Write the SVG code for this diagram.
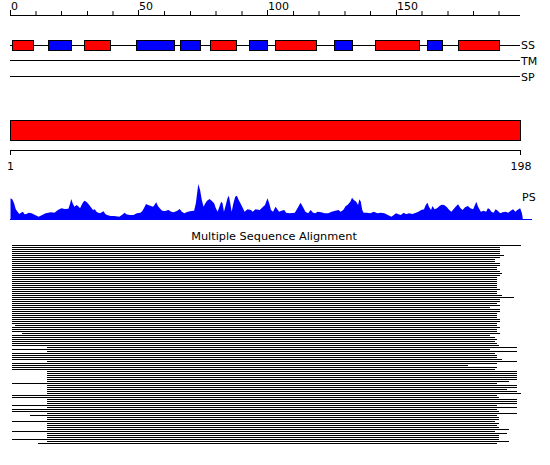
<svg xmlns="http://www.w3.org/2000/svg" width="550" height="465" viewBox="0 0 550 465">
<style>
text{font-family:"DejaVu Sans","Liberation Sans",sans-serif;font-size:11px;fill:#000}
.ln{stroke:#000;stroke-width:1;fill:none}
.red{fill:#ff0000;stroke:#000;stroke-width:1}
.blue{fill:#0000ff;stroke:#000;stroke-width:1}
</style>
<rect width="550" height="465" fill="#fff"/>
<g id="ruler-top">
<path class="ln" d="M10 15.5H520M10.5 10V15M36 11V15M61.5 11V15M87.5 11V15M113 11V15M138.5 10V15M164.5 11V15M190.5 11V15M216 11V15M242 11V15M267.5 10V15M293.5 11V15M319 11V15M345 11V15M370.5 11V15M396.5 10V15M422 11V15M448 11V15M473.5 11V15M499 11V15"/>
<text x="11" y="10">0</text>
<text x="139" y="10">50</text>
<text x="268" y="10">100</text>
<text x="397" y="10">150</text>
</g>
<g id="track-SS">
<path class="ln" d="M10 45.5H520"/>
<rect class="red" x="12.5" y="40.5" width="21" height="10"/>
<rect class="blue" x="48.5" y="40.5" width="23" height="10"/>
<rect class="red" x="84.5" y="40.5" width="26" height="10"/>
<rect class="blue" x="136.5" y="40.5" width="38" height="10"/>
<rect class="blue" x="180.5" y="40.5" width="20" height="10"/>
<rect class="red" x="210.5" y="40.5" width="26" height="10"/>
<rect class="blue" x="249.5" y="40.5" width="18" height="10"/>
<rect class="red" x="275.5" y="40.5" width="41" height="10"/>
<rect class="blue" x="334.5" y="40.5" width="18" height="10"/>
<rect class="red" x="375.5" y="40.5" width="44" height="10"/>
<rect class="blue" x="427.5" y="40.5" width="15" height="10"/>
<rect class="red" x="458.5" y="40.5" width="41" height="10"/>
<text x="521" y="49">SS</text>
</g>
<g id="track-TM">
<path class="ln" d="M10 60.5H520"/>
<text x="521" y="65">TM</text>
</g>
<g id="track-SP">
<path class="ln" d="M10 76.5H520"/>
<text x="521" y="81">SP</text>
</g>
<g id="domain-bar">
<rect class="red" x="10.5" y="120.5" width="510" height="20"/>
</g>
<g id="ruler-seq">
<path class="ln" d="M10.5 150.5H520.5M10.5 150V155M520.5 150V155"/>
<text x="10.5" y="170" text-anchor="middle">1</text>
<text x="521" y="170" text-anchor="middle">198</text>
</g>
<g id="track-PS">
<polygon fill="#0000ff" transform="translate(0,170) scale(0.351,0.33333)" points="30,150 30,85 35,88 40,100 45,118 50,125 55,132 60,128 65,125 70,133 75,132 82,128 90,130 100,135 110,140 120,135 130,130 145,127 155,128 165,120 175,115 185,117 195,116 200,100 203,87 207,100 212,110 218,105 222,108 228,115 235,100 240,92 246,95 252,102 258,110 265,120 270,118 275,125 280,128 285,130 290,127 295,124 300,132 305,135 315,138 325,138 340,140 350,133 355,128 360,133 370,135 380,135 390,130 400,128 405,124 410,115 416,102 422,105 430,108 436,110 440,105 445,97 450,108 455,115 462,122 470,123 480,120 488,125 495,127 505,122 512,117 518,125 525,130 535,125 545,123 553,122 558,100 565,42 570,60 575,90 580,110 585,100 590,92 597,87 603,92 610,100 615,115 620,125 625,110 630,95 634,100 638,125 642,110 648,85 652,77 656,100 660,125 665,100 670,80 675,77 680,90 685,100 690,110 697,125 705,118 715,120 720,125 728,118 740,120 748,112 755,105 762,85 767,100 772,120 778,125 785,110 790,118 795,125 802,122 810,120 815,128 825,130 840,128 850,110 856,98 860,105 865,115 870,125 878,130 885,120 892,128 898,130 905,125 915,127 925,130 935,130 945,125 955,122 965,120 970,125 978,120 985,108 990,105 998,95 1003,83 1008,90 1015,95 1020,105 1024,88 1028,95 1032,120 1036,128 1045,128 1055,130 1065,125 1075,130 1085,128 1095,130 1105,135 1115,140 1122,135 1128,130 1135,133 1142,135 1150,128 1157,133 1165,130 1175,132 1185,128 1192,125 1200,120 1208,118 1213,105 1218,98 1222,110 1228,120 1232,108 1238,118 1245,115 1252,108 1258,104 1265,105 1272,110 1280,120 1286,125 1292,118 1298,110 1305,103 1312,115 1318,120 1325,112 1333,108 1340,115 1348,118 1357,95 1362,110 1370,125 1378,122 1385,125 1390,115 1395,118 1400,125 1406,128 1412,118 1418,122 1425,130 1432,127 1440,125 1448,128 1455,122 1462,118 1468,125 1474,120 1482,115 1487,130 1490,150"/>
<path d="M10 219.5H532" stroke="#0000ff" stroke-width="1"/>
<text x="522" y="200.5">PS</text>
</g>
<g id="msa">
<text x="274" y="240" text-anchor="middle" style="font-size:11.3px">Multiple Sequence Alignment</text>
<path class="ln" d="M12 245.5H521M12 247.5H500M12 249.5H500M12 251.5H500M12 253.5H500M12 255.5H504M12 257.5H500M12 259.5H495M12 261.5H495M12 263.5H500M12 265.5H500M12 267.5H497M12 269.5H497M12 271.5H500M12 273.5H502M12 275.5H500M12 277.5H497M12 279.5H497M12 281.5H497M12 283.5H497M12 285.5H497M12 287.5H497M12 289.5H500M12 291.5H497M12 293.5H497M12 295.5H502M12 297.5H514M12 299.5H500M12 301.5H500M12 303.5H497M12 305.5H500M12 307.5H490M12 309.5H500M12 311.5H500M12 313.5H497M12 315.5H497M12 317.5H497M12 319.5H500M12 321.5H500M12 323.5H497M15 325.5H497M12 327.5H500M12 329.5H497M12 331.5H497M22 333.5H500M12 335.5H490M12 337.5H495M12 339.5H497M12 341.5H495M12 343.5H497M12 345.5H499M47 347.5H517M12 349.5H490M47 351.5H517M12 353.5H495M12 355.5H497M12 357.5H497M12 359.5H502M47 361.5H517M12 363.5H497M12 365.5H468M12 367.5H497M12 369.5H495M47 371.5H517M47 373.5H517M47 375.5H517M47 377.5H517M47 379.5H517M47 381.5H509M12 383.5H497M47 385.5H517M47 387.5H517M47 389.5H507M47 391.5H517M47 393.5H521M12 395.5H497M12 397.5H499M47 399.5H517M47 401.5H517M47 403.5H517M12 405.5H497M47 407.5H517M12 409.5H497M12 411.5H499M47 413.5H517M30 415.5H497M47 417.5H499M47 419.5H499M12 421.5H495M47 423.5H499M47 425.5H497M47 427.5H499M47 429.5H509M12 431.5H495M47 433.5H507M47 435.5H499M47 437.5H499M12 439.5H499M47 441.5H509M38 443.5H497"/>
</g>
</svg>
